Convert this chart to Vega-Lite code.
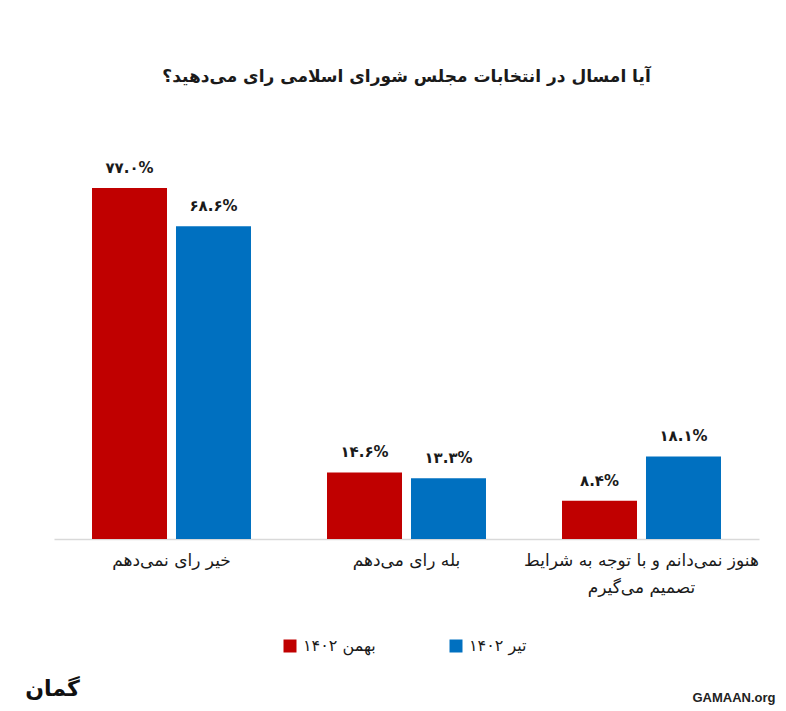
{
  "$schema": "https://vega.github.io/schema/vega-lite/v6.json",
  "width": 705,
  "height": 399,
  "autosize": "none",
  "padding": {"left": 54, "top": 140, "right": 27, "bottom": 172},
  "background": "white",
  "config": {"font": "DejaVu Sans", "view": {"stroke": null}},
  "title": {
    "text": "آیا امسال در انتخابات مجلس شورای اسلامی رای می‌دهید؟",
    "fontSize": 17,
    "fontWeight": "bold",
    "color": "#1a1a1a",
    "anchor": "middle",
    "offset": 54
  },
  "data": {
    "values": [
      {"answer": "خیر رای نمی‌دهم", "survey": "بهمن ۱۴۰۲", "pct": 77.0, "label": "۷۷.۰%"},
      {"answer": "خیر رای نمی‌دهم", "survey": "تیر ۱۴۰۲", "pct": 68.6, "label": "۶۸.۶%"},
      {"answer": "بله رای می‌دهم", "survey": "بهمن ۱۴۰۲", "pct": 14.6, "label": "۱۴.۶%"},
      {"answer": "بله رای می‌دهم", "survey": "تیر ۱۴۰۲", "pct": 13.3, "label": "۱۳.۳%"},
      {"answer": "هنوز نمی‌دانم و با توجه به شرایط|تصمیم می‌گیرم", "survey": "بهمن ۱۴۰۲", "pct": 8.4, "label": "۸.۴%"},
      {"answer": "هنوز نمی‌دانم و با توجه به شرایط|تصمیم می‌گیرم", "survey": "تیر ۱۴۰۲", "pct": 18.1, "label": "۱۸.۱%"}
    ]
  },
  "encoding": {
    "x": {
      "field": "answer",
      "type": "nominal",
      "sort": null,
      "scale": {"paddingInner": 0, "paddingOuter": 0},
      "axis": {
        "labelExpr": "split(datum.label, '|')",
        "labelAngle": 0,
        "labelFontSize": 17,
        "labelColor": "#1a1a1a",
        "labelPadding": 13,
        "labelLineHeight": 27,
        "labelLimit": 300,
        "labelOverlap": false,
        "ticks": false,
        "domainColor": "#d9d9d9",
        "domainWidth": 1.5,
        "title": "GAMAAN.org",
        "titleFont": "Liberation Sans",
        "titleFontSize": 13,
        "titleFontWeight": "bold",
        "titleColor": "#222222",
        "titleAlign": "right",
        "titleBaseline": "middle",
        "titleX": 721,
        "titleY": 158
      }
    },
    "xOffset": {
      "field": "survey",
      "type": "nominal",
      "sort": ["بهمن ۱۴۰۲", "تیر ۱۴۰۲"],
      "scale": {"paddingInner": 0.107, "paddingOuter": 0.4525}
    },
    "y": {
      "field": "pct",
      "type": "quantitative",
      "scale": {"domain": [0, 87.5]},
      "axis": {
        "domain": false,
        "ticks": false,
        "labels": false,
        "grid": false,
        "title": "گمان",
        "titleAngle": 0,
        "titleX": -2,
        "titleY": 548,
        "titleAlign": "center",
        "titleBaseline": "middle",
        "titleFontSize": 22,
        "titleFontWeight": "bold",
        "titleColor": "#111111"
      }
    }
  },
  "layer": [
    {
      "mark": {"type": "bar"},
      "encoding": {
        "color": {
          "field": "survey",
          "type": "nominal",
          "scale": {"domain": ["بهمن ۱۴۰۲", "تیر ۱۴۰۲"], "range": ["#C00000", "#0070C0"]},
          "legend": {
            "title": null,
            "orient": "none",
            "direction": "horizontal",
            "legendX": 228,
            "legendY": 498,
            "symbolType": "square",
            "symbolSize": 169,
            "symbolStrokeWidth": 0,
            "labelFontSize": 16,
            "labelColor": "#1a1a1a",
            "labelOffset": 5,
            "columnPadding": 72,
            "labelLimit": 200
          }
        }
      }
    },
    {
      "mark": {"type": "text", "baseline": "bottom", "dy": -12, "fontSize": 15, "fontWeight": "bold", "color": "#1a1a1a"},
      "encoding": {"text": {"field": "label"}}
    }
  ]
}
